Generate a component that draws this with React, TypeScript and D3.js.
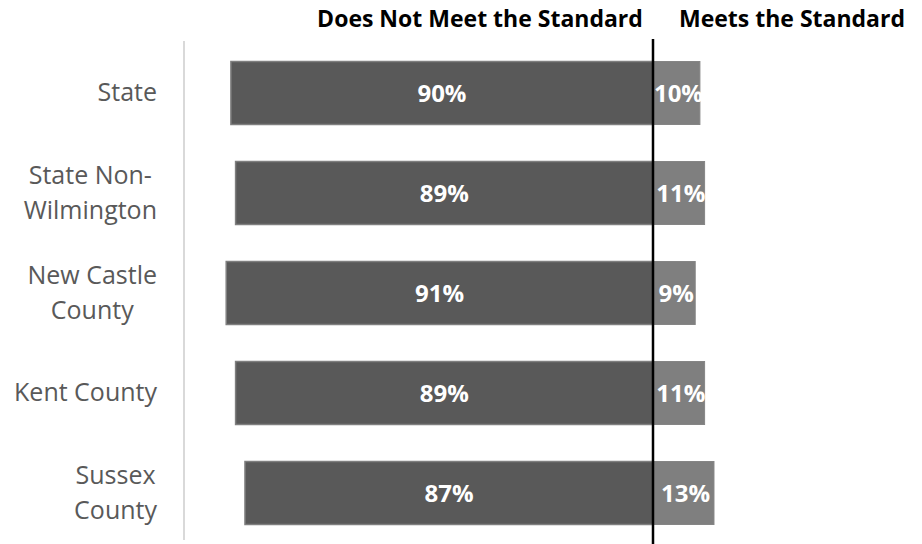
import React, { useEffect, useRef } from "react";
import * as d3 from "d3";

const categories = [["State"], ["State Non-", "Wilmington"], ["New Castle", "County"], ["Kent County"], ["Sussex", "County"]];
const notMeet = [90, 89, 91, 89, 87];
const meets = [10, 11, 9, 11, 13];
const headers = ["Does Not Meet the Standard", "Meets the Standard"];

const W = 922, H = 544;
const FONT = "'Open Sans', sans-serif";

export default function App() {
  const ref = useRef<SVGSVGElement>(null);
  const x = d3.scaleLinear().domain([-100, 100]).range([184, 1122]);
  const y = d3.scaleBand<number>().domain(d3.range(categories.length)).range([43, 543]).paddingInner(0.37).paddingOuter(0.185);

  useEffect(() => {
    const svg = d3.select(ref.current);
    svg.selectAll("g.lab").each(function () {
      const g = d3.select(this as SVGGElement);
      let maxW = 0;
      g.selectAll<SVGTextElement, unknown>("text").each(function () {
        maxW = Math.max(maxW, this.getComputedTextLength());
      });
      g.selectAll("text").attr("x", 157 - maxW / 2);
    });
  }, []);

  const lineH = 35;
  return (
    <svg ref={ref} width={W} height={H} style={{ position: "absolute", left: 0, top: 0, display: "block" }} fontFamily={FONT}>
      <rect width={W} height={H} fill="#fff" />
      <text x={480} y={27} textAnchor="middle" fontWeight="bold" fontSize={23} fill="#000">{headers[0]}</text>
      <text x={792} y={27} textAnchor="middle" fontWeight="bold" fontSize={23} fill="#000">{headers[1]}</text>
      <line x1={x(-100)} x2={x(-100)} y1={41} y2={540} stroke="#d9d9d9" strokeWidth={2} />
      {categories.map((c, i) => {
        const cy = y(i)! + y.bandwidth() / 2;
        const x0 = x(-notMeet[i]);
        const x1 = x(0);
        const x2 = x(meets[i]);
        return (
          <g key={i}>
            <rect x={x0} y={y(i)} width={x1 - x0} height={y.bandwidth()} fill="#595959" stroke="#7f7f7f" strokeWidth={1.5} />
            <rect x={x1} y={y(i)} width={x2 - x1} height={y.bandwidth()} fill="#7f7f7f" stroke="#858585" strokeWidth={1} />
            <text x={(x0 + x1) / 2} y={cy} dy="0.36em" textAnchor="middle" fontWeight="bold" fontSize={24} fill="#fff">{notMeet[i]}%</text>
            <text x={(x1 + x2) / 2 + 2} y={cy} dy="0.36em" textAnchor="middle" fontWeight="bold" fontSize={24} fill="#fff">{meets[i]}%</text>
            <g className="lab">
              {c.map((l, j) => (
                <text key={j} x={157} y={cy + (j - (c.length - 1) / 2) * lineH - 1} dy="0.36em" textAnchor="middle" fontSize={25} fill="#595959">{l}</text>
              ))}
            </g>
          </g>
        );
      })}
      <line x1={x(0)} x2={x(0)} y1={39} y2={544} stroke="#000" strokeWidth={2.5} />
    </svg>
  );
}
